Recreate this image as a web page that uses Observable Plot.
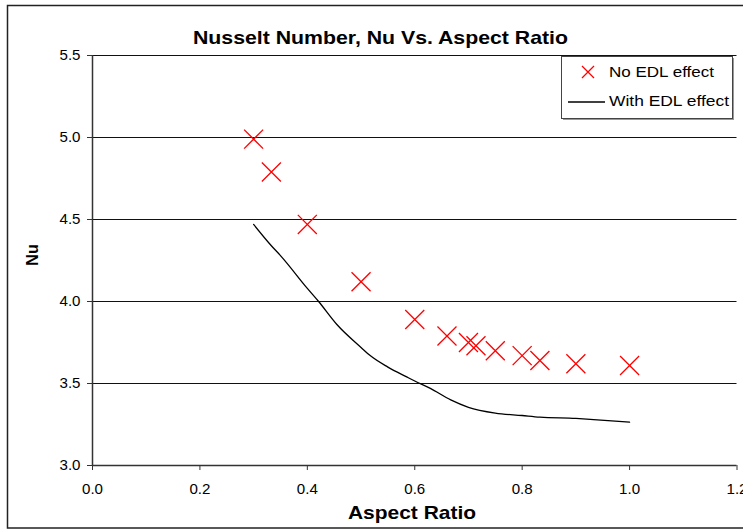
<!DOCTYPE html>
<html>
<head>
<meta charset="utf-8">
<script src="https://cdn.jsdelivr.net/npm/d3@7"></script>
<script src="https://cdn.jsdelivr.net/npm/@observablehq/plot@0.6"></script>
<style>
  html, body { margin: 0; padding: 0; background: #fff; }
  #chart svg { display: block; }
</style>
</head>
<body>
<div id="chart"></div>
<script>
// --- data ---
const aspectNoEDL = [0.3, 0.333, 0.4, 0.5, 0.6, 0.66, 0.7, 0.714, 0.75, 0.8, 0.833, 0.9, 1.0];
const nuNoEDL     = [4.99, 4.79, 4.47, 4.12, 3.89, 3.79, 3.75, 3.73, 3.70, 3.67, 3.64, 3.62, 3.61];

const aspectEDL = [0.3, 0.333, 0.35, 0.4, 0.421, 0.455, 0.5, 0.517, 0.55, 0.585, 0.6, 0.629, 0.667, 0.7, 0.75, 0.8, 0.833, 0.9, 0.933, 1.0];
const nuEDL     = [4.47, 4.34, 4.28, 4.08, 4.00, 3.86, 3.72, 3.67, 3.60, 3.54, 3.515, 3.47, 3.40, 3.355, 3.32, 3.305, 3.295, 3.287, 3.28, 3.264];

const xTicks = [0.0, 0.2, 0.4, 0.6, 0.8, 1.0, 1.2];
const yTicks = [3.0, 3.5, 4.0, 4.5, 5.0, 5.5];

const titleText = "Nusselt Number, Nu Vs. Aspect Ratio";
const xLabel = "Aspect Ratio";
const yLabel = "Nu";
const seriesNames = ["No EDL effect", "With EDL effect"];

const noEDL = aspectNoEDL.map((a, i) => ({ aspect: a, nu: nuNoEDL[i] }));
const withEDL = aspectEDL.map((a, i) => ({ aspect: a, nu: nuEDL[i] }));

const W = 743, H = 531;
const font = "'Liberation Sans', Arial, sans-serif";

const plot = Plot.plot({
  width: W,
  height: H,
  marginLeft: 92,
  marginRight: 6.5,
  marginTop: 55,
  marginBottom: 66,
  style: { fontFamily: font, fontSize: "14.5px", color: "#000", background: "#fff", overflow: "visible" },
  x: { domain: [0, 1.2] },
  y: { domain: [3, 5.5] },
  marks: [
    Plot.ruleY(yTicks.filter(d => d > 3), { stroke: "#111", strokeWidth: 1 }),
    Plot.ruleX([0], { stroke: "#333", strokeWidth: 1.5 }),
    Plot.ruleY([3], { stroke: "#333", strokeWidth: 1.5 }),
    Plot.axisY({ ticks: yTicks, tickSize: 5, tickPadding: 7, tickFormat: d3.format(".1f"), label: null, stroke: "#333" }),
    Plot.axisX({ ticks: xTicks, tickSize: 5, tickPadding: 13, tickFormat: d3.format(".1f"), label: null, stroke: "#333" }),
    Plot.line(withEDL, { x: "aspect", y: "nu", stroke: "#000", strokeWidth: 1.3, curve: "monotone-x" }),
    Plot.dot(noEDL, { x: "aspect", y: "nu", symbol: "times", r: 8.7, stroke: "#ff0000", strokeWidth: 1.3 })
  ]
});

document.getElementById("chart").appendChild(plot);

const svg = d3.select(plot);

// reference tick text is horizontally wide: stretch tick labels a little
svg.selectAll("text").filter(function () { return /^\d\.\d$/.test(this.textContent.trim()); })
  .attr("textLength", 21).attr("lengthAdjust", "spacingAndGlyphs");

// outer chart border
svg.insert("rect", ":first-child")
  .attr("x", 7.5).attr("y", 5.5).attr("width", 745).attr("height", 522.5)
  .attr("fill", "#fff").attr("stroke", "#222").attr("stroke-width", 1.5);

// title
svg.append("text")
  .attr("x", 380.5).attr("y", 44)
  .attr("text-anchor", "middle")
  .attr("font-family", font).attr("font-weight", "bold").attr("font-size", 18.5)
  .attr("textLength", 375).attr("lengthAdjust", "spacingAndGlyphs")
  .text(titleText);

// x axis title
svg.append("text")
  .attr("x", 412).attr("y", 519)
  .attr("text-anchor", "middle")
  .attr("font-family", font).attr("font-weight", "bold").attr("font-size", 19)
  .attr("textLength", 128).attr("lengthAdjust", "spacingAndGlyphs")
  .text(xLabel);

// y axis title
svg.append("text")
  .attr("transform", "translate(38,255) rotate(-90)")
  .attr("text-anchor", "middle")
  .attr("font-family", font).attr("font-weight", "bold").attr("font-size", 16)
  .text(yLabel);

// legend
const lg = svg.append("g").attr("text-anchor", "start");
lg.append("rect").attr("x", 563).attr("y", 58).attr("width", 171).attr("height", 62).attr("fill", "#999");
lg.append("rect").attr("x", 561.5).attr("y", 56.5).attr("width", 171).attr("height", 62)
  .attr("fill", "#fff").attr("stroke", "#444").attr("stroke-width", 1);
lg.append("path").attr("d", "M582,66L594,78M594,66L582,78").attr("stroke", "#ff0000").attr("stroke-width", 1.3);
lg.append("text").attr("x", 609).attr("y", 77).attr("text-anchor", "start").attr("font-family", font).attr("font-size", 14.5)
  .attr("textLength", 105).attr("lengthAdjust", "spacingAndGlyphs").text(seriesNames[0]);
lg.append("line").attr("x1", 568).attr("x2", 605).attr("y1", 102).attr("y2", 102).attr("stroke", "#000").attr("stroke-width", 1.3);
lg.append("text").attr("x", 609).attr("y", 106).attr("text-anchor", "start").attr("font-family", font).attr("font-size", 14.5)
  .attr("textLength", 120).attr("lengthAdjust", "spacingAndGlyphs").text(seriesNames[1]);
</script>
</body>
</html>
